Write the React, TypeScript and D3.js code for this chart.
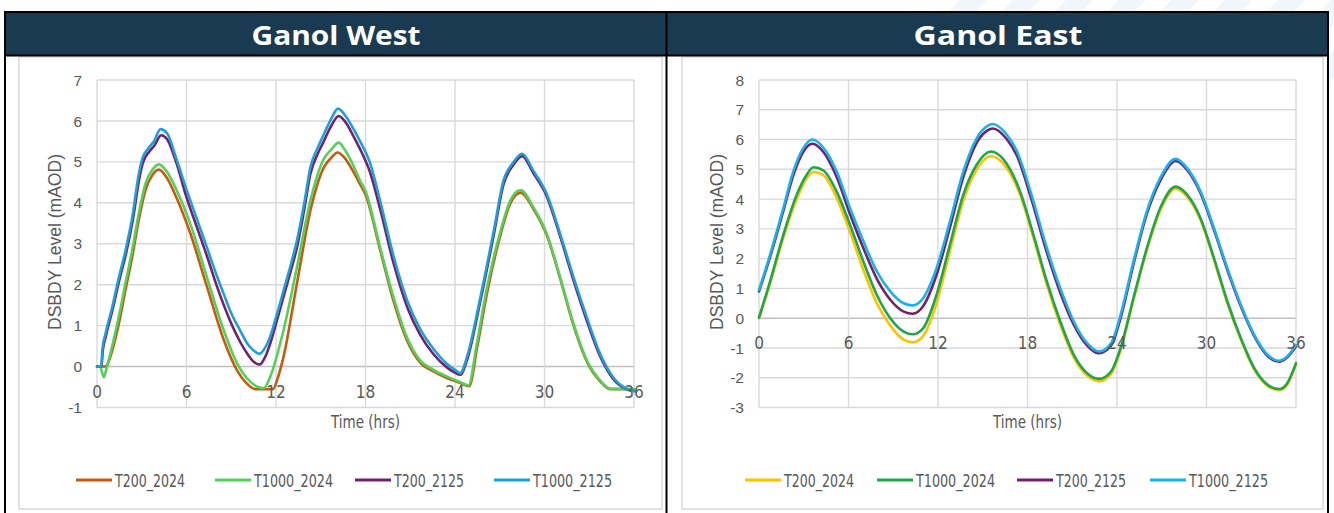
import React from "react";
import * as d3 from "d3";

type Pt = [number, number];

// ---------- data ----------
const seriesNames = ["T200_2024", "T1000_2024", "T200_2125", "T1000_2125"];
const xTicks = [0, 6, 12, 18, 24, 30, 36];
const westYTicks = [-1, 0, 1, 2, 3, 4, 5, 6, 7];
const eastYTicks = [-3, -2, -1, 0, 1, 2, 3, 4, 5, 6, 7, 8];
const westColors = ["#c55a11", "#55d058", "#72216c", "#1f9fd9"];
const eastColors = ["#ffc000", "#1ea64b", "#72216c", "#1ab2ec"];

const westT200_2024: Pt[] = [
  [0, 0], [0.55, 0], [1.02, 0.39], [1.47, 1.06], [1.91, 1.87], [2.36, 2.68], [2.8, 3.58], [3.25, 4.31],
  [3.7, 4.67], [4.15, 4.81],
  [4.7, 4.6], [5.36, 4.1], [6.26, 3.25], [7.37, 1.95], [8.5, 0.65], [9.4, -0.1], [10.0, -0.4],
  [10.6, -0.55], [11.8, -0.55], [12.1, -0.3], [12.5, 0.23], [13.4, 2.02], [14.3, 3.8], [15.2, 4.86],
  [15.7, 5.1], [16.13, 5.23], [16.6, 5.1], [17.2, 4.75], [17.64, 4.45], [18.0, 4.2], [18.98, 2.85],
  [19.88, 1.6], [20.77, 0.65], [21.66, 0.1], [22.56, -0.12], [23.45, -0.28], [24.35, -0.4],
  [24.95, -0.48], [25.5, 0.5], [26.15, 1.8], [27.0, 3.15], [27.7, 3.98], [28.4, 4.25], [29.26, 3.85],
  [30.16, 3.2], [31.05, 2.15], [31.95, 1.0], [32.84, 0.12], [33.73, -0.36], [34.4, -0.55], [36, -0.55],
];
const westT1000_2024: Pt[] = [
  [0, 0], [0.2, 0], [0.46, -0.26], [0.6, -0.1], [1.02, 0.5], [1.47, 1.23], [1.91, 2.04], [2.36, 2.85],
  [2.8, 3.74], [3.25, 4.47], [3.7, 4.8], [4.15, 4.94],
  [4.7, 4.75], [5.36, 4.29], [6.26, 3.48], [7.37, 2.18], [8.5, 0.88], [9.4, 0.07],
  [10.3, -0.38], [10.8, -0.5], [11.17, -0.53], [11.6, -0.26], [12.5, 0.88], [13.4, 2.42], [14.3, 4.05],
  [15.2, 5.07], [15.7, 5.3], [16.2, 5.47], [16.6, 5.3], [17.2, 4.9], [17.64, 4.54], [18.0, 4.29],
  [18.98, 2.91], [19.88, 1.69], [20.77, 0.72], [21.66, 0.15], [22.56, -0.08], [23.45, -0.24],
  [24.35, -0.38], [24.9, -0.46], [25.46, 0.55], [26.1, 1.85], [27.0, 3.24], [27.7, 4.05], [28.4, 4.31],
  [29.26, 3.89], [30.16, 3.24], [31.05, 2.18], [31.95, 1.04], [32.84, 0.15], [33.73, -0.34],
  [34.4, -0.54], [36, -0.55],
];
const westT200_2125: Pt[] = [
  [0, 0], [0.3, 0], [0.38, 0.37], [0.6, 0.75], [1.05, 1.4], [1.5, 2.12], [1.95, 2.77], [2.4, 3.58],
  [2.85, 4.62], [3.08, 4.98], [3.5, 5.25], [3.85, 5.4], [4.3, 5.65],
  [4.7, 5.55], [5.3, 5.0], [6.03, 4.1], [6.7, 3.4], [7.37, 2.7], [8.0, 2.0], [8.5, 1.5],
  [9.0, 1.05], [9.6, 0.6], [10.1, 0.3], [10.5, 0.12], [10.9, 0.05], [11.2, 0.18], [11.6, 0.55],
  [12.0, 1.05], [12.5, 1.7], [13.0, 2.35], [13.4, 2.9], [13.9, 3.85], [14.3, 4.7], [14.8, 5.2],
  [15.2, 5.5], [15.7, 5.88], [16.2, 6.12], [16.7, 5.95], [17.2, 5.62], [17.64, 5.31], [18.3, 4.75],
  [18.98, 3.85], [19.9, 2.5], [20.8, 1.45], [21.66, 0.78], [22.56, 0.3], [23.45, -0.02], [24.0, -0.15],
  [24.35, -0.2], [24.8, 0.15], [25.7, 1.6], [26.6, 3.22], [27.25, 4.45], [27.9, 4.92], [28.5, 5.14],
  [29.26, 4.72], [30.16, 4.15], [31.05, 3.18], [31.95, 2.1], [32.84, 1.12], [33.73, 0.25], [34.6, -0.3],
  [35.5, -0.55], [36, -0.6],
];
const westT1000_2125: Pt[] = [
  [0, 0], [0.3, 0], [0.35, 0.39], [0.57, 0.8], [1.02, 1.45], [1.47, 2.18], [1.91, 2.83], [2.36, 3.64],
  [2.8, 4.7], [3.03, 5.07], [3.48, 5.35], [3.81, 5.5], [4.26, 5.8],
  [4.7, 5.7], [5.3, 5.1], [6.03, 4.29], [6.7, 3.6], [7.37, 2.91], [8.0, 2.25],
  [8.5, 1.77], [9.0, 1.3], [9.6, 0.88], [10.1, 0.55], [10.5, 0.39], [10.9, 0.31], [11.2, 0.42],
  [11.6, 0.72], [12.0, 1.2], [12.5, 1.85], [13.0, 2.5], [13.4, 3.07], [13.9, 4.0], [14.3, 4.86],
  [14.8, 5.35], [15.2, 5.67], [15.7, 6.05], [16.15, 6.3], [16.7, 6.1], [17.2, 5.8], [17.64, 5.5],
  [18.3, 4.98], [18.98, 4.05], [19.9, 2.67], [20.8, 1.61], [21.66, 0.92], [22.56, 0.43], [23.45, 0.07],
  [24.0, -0.08], [24.35, -0.16], [24.8, 0.23], [25.7, 1.69], [26.6, 3.32], [27.25, 4.54], [27.9, 4.98],
  [28.5, 5.2], [29.26, 4.78], [30.16, 4.21], [31.05, 3.24], [31.95, 2.18], [32.84, 1.2], [33.73, 0.31],
  [34.6, -0.26], [35.5, -0.54], [36, -0.6],
];

const eastT200_2024: Pt[] = [
  [0, 0], [0.74, 1.15], [1.63, 2.7], [2.53, 4.0], [3.2, 4.7], [3.65, 4.91], [4.32, 4.8], [5.2, 4.05],
  [6.1, 2.9], [7.0, 1.62], [7.9, 0.5], [8.8, -0.25], [9.7, -0.72], [10.3, -0.81], [11.0, -0.6],
  [11.9, 0.5], [12.8, 2.25], [13.7, 3.95], [14.6, 5.0], [15.55, 5.44], [16.4, 5.18], [17.5, 4.15],
  [18.4, 2.7], [19.3, 1.12], [20.2, -0.22], [21.1, -1.32], [22.0, -1.93], [22.8, -2.12], [23.6, -1.87],
  [24.24, -1.08], [25.1, 0.6], [26.0, 2.28], [26.9, 3.62], [27.93, 4.35], [28.7, 4.08], [29.6, 3.3],
  [30.5, 1.96], [31.4, 0.5], [32.3, -0.72], [33.2, -1.73], [34.1, -2.28], [34.87, -2.42], [35.4, -2.24],
  [36, -1.55],
];
const eastT1000_2024: Pt[] = [
  [0, 0.02], [0.74, 1.23], [1.63, 2.8], [2.53, 4.15], [3.2, 4.82], [3.65, 5.07], [4.32, 4.96],
  [5.2, 4.26], [6.1, 3.14], [7.0, 1.9], [7.9, 0.78], [8.8, 0.0], [9.7, -0.45], [10.3, -0.54],
  [11.0, -0.34], [11.9, 0.78], [12.8, 2.47], [13.7, 4.15], [14.6, 5.16], [15.55, 5.6], [16.4, 5.33],
  [17.5, 4.26], [18.4, 2.8], [19.3, 1.23], [20.2, -0.11], [21.1, -1.23], [22.0, -1.85], [22.8, -2.04],
  [23.6, -1.79], [24.24, -1.0], [25.1, 0.67], [26.0, 2.35], [26.9, 3.7], [27.93, 4.42], [28.7, 4.15],
  [29.6, 3.36], [30.5, 2.02], [31.4, 0.56], [32.3, -0.67], [33.2, -1.68], [34.1, -2.24], [34.87, -2.38],
  [35.4, -2.19], [36, -1.51],
];
const eastT200_2125: Pt[] = [
  [0, 0.9], [0.74, 2.05], [1.63, 3.6], [2.3, 4.8], [2.98, 5.6], [3.58, 5.86], [4.32, 5.58], [5.2, 4.75],
  [6.1, 3.5], [7.0, 2.35], [7.9, 1.32], [8.8, 0.62], [9.7, 0.22], [10.3, 0.15], [11.0, 0.4], [11.9, 1.45],
  [12.8, 3.05], [13.7, 4.75], [14.6, 5.9], [15.3, 6.3], [15.66, 6.37], [16.6, 6.02], [17.3, 5.45],
  [18.2, 4.1], [19.3, 2.2], [20.2, 0.85], [21.1, -0.22], [22.0, -0.92], [22.8, -1.18], [23.6, -0.92],
  [24.24, 0.0], [25.1, 1.8], [26.0, 3.5], [26.9, 4.62], [27.93, 5.28], [28.7, 4.98], [29.6, 4.2],
  [30.5, 2.97], [31.4, 1.62], [32.3, 0.4], [33.2, -0.6], [34.1, -1.27], [34.87, -1.46], [35.4, -1.32],
  [36, -0.95],
];
const eastT1000_2125: Pt[] = [
  [0, 0.95], [0.74, 2.13], [1.63, 3.7], [2.3, 4.93], [2.98, 5.72], [3.58, 6.0], [4.32, 5.72], [5.2, 4.93],
  [6.1, 3.7], [7.0, 2.58], [7.9, 1.57], [8.8, 0.9], [9.7, 0.5], [10.3, 0.43], [11.0, 0.67], [11.9, 1.68],
  [12.8, 3.25], [13.7, 4.93], [14.6, 6.05], [15.3, 6.45], [15.66, 6.52], [16.6, 6.17], [17.3, 5.6],
  [18.2, 4.26], [19.3, 2.35], [20.2, 1.0], [21.1, -0.11], [22.0, -0.84], [22.8, -1.12], [23.6, -0.84],
  [24.24, 0.11], [25.1, 1.9], [26.0, 3.59], [26.9, 4.71], [27.93, 5.35], [28.7, 5.04], [29.6, 4.26],
  [30.5, 3.03], [31.4, 1.68], [32.3, 0.45], [33.2, -0.56], [34.1, -1.23], [34.87, -1.43], [35.4, -1.29],
  [36, -0.9],
];

const westSeries = [westT200_2024, westT1000_2024, westT200_2125, westT1000_2125];
const eastSeries = [eastT200_2024, eastT1000_2024, eastT200_2125, eastT1000_2125];

// ---------- drawing ----------
const NARROW = "'Liberation Sans Narrow', 'DejaVu Sans Condensed', 'Arial Narrow', sans-serif";
const SANS = "'Liberation Sans', Arial, sans-serif";
const GRID = "#d9d9d9";
const TXT = "#595959";

type PanelProps = {
  title: string;
  frameX0: number;
  frameX1: number;
  innerX0: number;
  innerX1: number;
  plotX0: number;
  plotX1: number;
  yDomain: [number, number];
  yTicks: number[];
  series: Pt[][];
  colors: string[];
  legendX: number[];
};

function Panel(p: PanelProps) {
  const plotTop = 80;
  const plotBottom = 407.5;
  const x = d3.scaleLinear().domain([0, 36]).range([p.plotX0, p.plotX1]);
  const y = d3.scaleLinear().domain(p.yDomain).range([plotBottom, plotTop]);
  const line = d3
    .line<Pt>()
    .x((d) => x(d[0]))
    .y((d) => y(d[1]))
    .curve(d3.curveMonotoneX);
  const y0 = y(0);
  const cx = (p.frameX0 + p.frameX1) / 2;
  const plotCx = (p.plotX0 + p.plotX1) / 2;
  return (
    <g>
      {/* header */}
      <rect x={p.frameX0} y={12} width={p.frameX1 - p.frameX0} height={43} fill="#1a3a52" />
      <text
        x={cx}
        y={45}
        textAnchor="middle"
        fill="#ffffff"
        fontFamily="'Open Sans', 'Noto Sans', sans-serif"
        fontWeight={700}
        fontSize={27.5}
        textLength={169}
        lengthAdjust="spacingAndGlyphs"
      >
        {p.title}
      </text>
      {/* chart area border */}
      <rect
        x={p.innerX0}
        y={57}
        width={p.innerX1 - p.innerX0}
        height={452}
        fill="#ffffff"
        stroke={GRID}
        strokeWidth={1.5}
      />
      {/* gridlines */}
      {p.yTicks.map((t) => (
        <line
          key={"h" + t}
          x1={p.plotX0}
          x2={p.plotX1}
          y1={y(t)}
          y2={y(t)}
          stroke={t === 0 ? "#bfbfbf" : GRID}
          strokeWidth={1.4}
        />
      ))}
      {xTicks.map((t) => (
        <line key={"v" + t} x1={x(t)} x2={x(t)} y1={plotTop} y2={plotBottom} stroke={GRID} strokeWidth={1.4} />
      ))}
      {/* y tick labels */}
      {p.yTicks.map((t) => (
        <text
          key={"yl" + t}
          x={p.plotX0 - 15}
          y={y(t)}
          dy="0.36em"
          textAnchor="end"
          fill={TXT}
          fontFamily={SANS}
          fontSize={15.5}
        >
          {t}
        </text>
      ))}
      {/* series */}
      {p.series.map((s, i) => (
        <path
          key={"s" + i}
          d={line(s) || ""}
          fill="none"
          stroke={p.colors[i]}
          strokeWidth={2.6}
          strokeLinejoin="round"
          strokeLinecap="round"
        />
      ))}
      {/* x tick labels (drawn at the zero crossing) */}
      {xTicks.map((t) => (
        <text
          key={"xl" + t}
          x={x(t)}
          y={y0 + 31}
          textAnchor="middle"
          fill={TXT}
          fontFamily={NARROW}
          fontSize={17}
        >
          {t}
        </text>
      ))}
      {/* axis titles */}
      <text
        x={plotCx}
        y={428}
        textAnchor="middle"
        fill={TXT}
        fontFamily={NARROW}
        fontSize={18}
        textLength={69}
        lengthAdjust="spacingAndGlyphs"
      >
        Time (hrs)
      </text>
      <text
        transform={`translate(${p.plotX0 - 36},${242}) rotate(-90)`}
        textAnchor="middle"
        fill={TXT}
        fontFamily={SANS}
        fontSize={17.5}
        textLength={176}
        lengthAdjust="spacingAndGlyphs"
      >
        DSBDY Level (mAOD)
      </text>
      {/* legend */}
      {seriesNames.map((name, i) => (
        <g key={"lg" + i}>
          <line
            x1={p.legendX[i]}
            x2={p.legendX[i] + 36}
            y1={480}
            y2={480}
            stroke={p.colors[i]}
            strokeWidth={3}
          />
          <text
            x={p.legendX[i] + 39}
            y={487}
            fill={TXT}
            fontFamily={NARROW}
            fontSize={18}
            textLength={name.length === 9 ? 70 : 79}
            lengthAdjust="spacingAndGlyphs"
          >
            {name}
          </text>
        </g>
      ))}
    </g>
  );
}

export default function App() {
  const stripes = d3.range(0, 9);
  return (
    <svg
      width={1334}
      height={513}
      viewBox="0 0 1334 513"
      style={{ position: "absolute", left: 0, top: 0, background: "#ffffff" }}
    >
      {/* faint watermark stripes, top right */}
      {stripes.map((i) => {
        const bx = 960 + i * 53;
        return (
          <polygon
            key={"st" + i}
            points={`${bx},0 ${bx + 27},0 ${bx + 27 - 160},160 ${bx - 160},160`}
            fill="#f0f6f9"
          />
        );
      })}
      <rect x={5} y={12} width={1323} height={510} fill="#ffffff" />
      <Panel
        title="Ganol West"
        frameX0={5}
        frameX1={667}
        innerX0={19}
        innerX1={662}
        plotX0={97}
        plotX1={634}
        yDomain={[-1, 7]}
        yTicks={westYTicks}
        series={westSeries}
        colors={westColors}
        legendX={[76, 215, 355, 494]}
      />
      <Panel
        title="Ganol East"
        frameX0={667}
        frameX1={1329}
        innerX0={682}
        innerX1={1323}
        plotX0={759}
        plotX1={1296}
        yDomain={[-3, 8]}
        yTicks={eastYTicks}
        series={eastSeries}
        colors={eastColors}
        legendX={[745, 877, 1017, 1150]}
      />
      {/* black frame lines */}
      <line x1={4} x2={1329} y1={12} y2={12} stroke="#000" strokeWidth={2} />
      <line x1={4} x2={1329} y1={55.5} y2={55.5} stroke="#000" strokeWidth={2} />
      <line x1={5} x2={5} y1={11} y2={513} stroke="#000" strokeWidth={2} />
      <line x1={666.5} x2={666.5} y1={11} y2={513} stroke="#000" strokeWidth={2} />
      <line x1={1328} x2={1328} y1={11} y2={513} stroke="#000" strokeWidth={2} />
    </svg>
  );
}
